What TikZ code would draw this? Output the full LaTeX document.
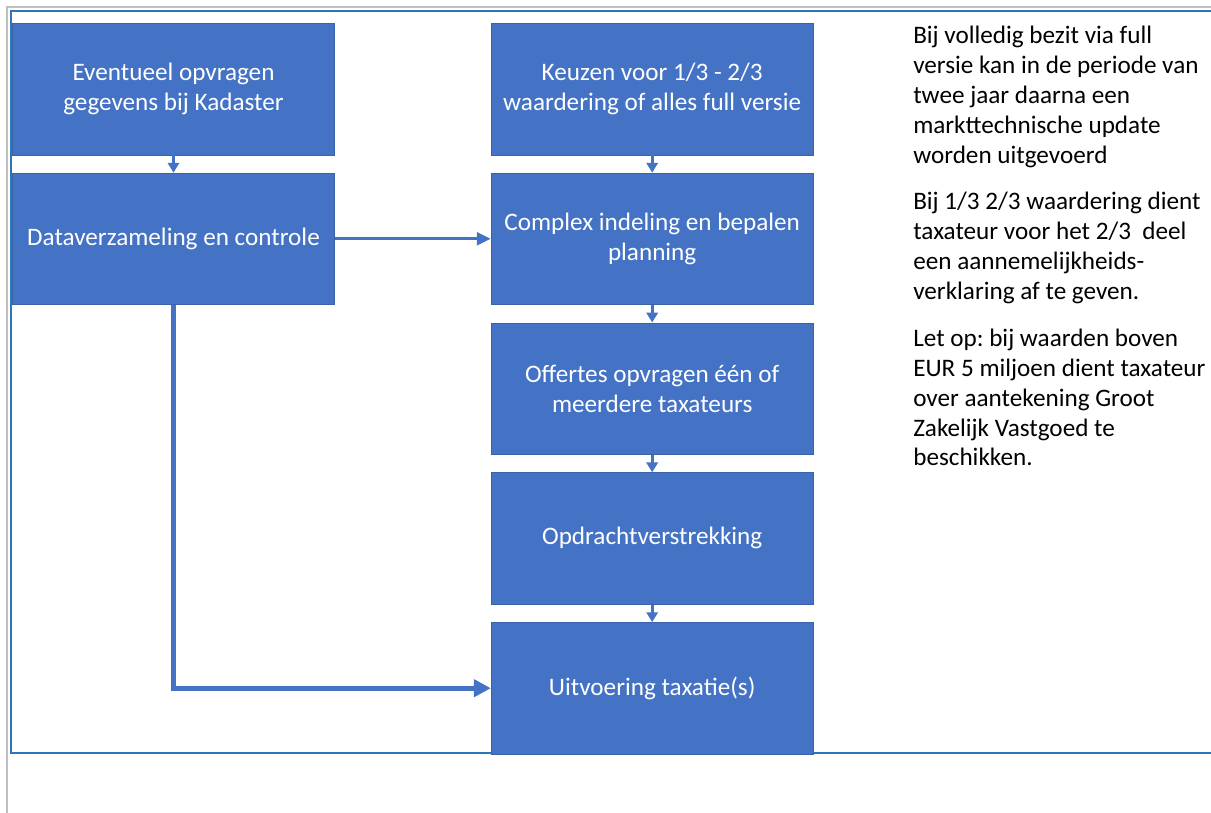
\documentclass[tikz,border=0pt]{standalone}
\usepackage{fontspec}
\setmainfont{Carlito}
\usetikzlibrary{positioning,arrows.meta}
\definecolor{boxblue}{HTML}{4472C4}
\definecolor{boxedge}{HTML}{3A62AA}
\definecolor{frameblue}{HTML}{2E75B6}
\definecolor{framegray}{HTML}{BFBFBF}
\frenchspacing

\begin{document}
\begin{tikzpicture}[
        x=0.025cm, y=-0.025cm,
        stepbox/.style={
            rectangle,
            fill=boxblue, draw=boxedge, line width=0.4pt,
            minimum width=8.05cm,
            minimum height=3.29cm,
            align=center, text=white,
            font=\fontsize{17.9}{21.3}\selectfont
        },
        note/.style={
            anchor=north west, inner sep=0pt,
            align=left,
            font=\fontsize{17.9}{21.3}\selectfont
        },
        shortarrow/.style={-{Triangle[length=7pt,width=8pt]}, boxblue, line width=2pt},
        arrow/.style={-{Triangle[length=10pt,width=9pt]}, boxblue, line width=2.2pt},
        bigarrow/.style={-{Triangle[length=12pt,width=12pt]}, boxblue, line width=3.5pt},
        node distance=0.44cm and 3.9cm
    ]

    \useasboundingbox (0,0) rectangle (1211,812);

    \draw[framegray, line width=1.5pt] (7,815) -- (7,7) -- (1215,7);
    \draw[frameblue, line width=1.2pt] (1215,11) -- (11,11) -- (11,753) -- (1215,753);

    \node[stepbox] (kadaster) at (173.5,89)
        {Eventueel opvragen\\gegevens bij Kadaster};
    \node[stepbox, below=of kadaster] (dataverz)
        {Dataverzameling en controle};

    \node[stepbox, right=of kadaster] (keuze)
        {Keuzen voor 1/3 - 2/3\\waardering of alles full versie};
    \node[stepbox, below=of keuze] (complex)
        {Complex indeling en bepalen\\planning};
    \node[stepbox, below=of complex] (offertes)
        {Offertes opvragen één of\\meerdere taxateurs};
    \node[stepbox, below=of offertes] (opdracht)
        {Opdrachtverstrekking};
    \node[stepbox, below=of opdracht] (uitvoering)
        {Uitvoering taxatie(s)};

    \node[note] (bezit) at (913,26)
        {Bij volledig bezit via full\\
         versie kan in de periode van\\
         twee jaar daarna een\\
         markttechnische update\\
         worden uitgevoerd};
    \node[note, below=0.6cm of bezit.south west, anchor=north west] (waardering)
        {Bij 1/3 2/3 waardering dient\\
         taxateur voor het 2/3~~deel\\
         een aannemelijkheids-\\
         verklaring af te geven.};
    \node[note, below=0.6cm of waardering.south west, anchor=north west] (letop)
        {Let op: bij waarden boven\\
         EUR 5 miljoen dient taxateur\\
         over aantekening Groot\\
         Zakelijk Vastgoed te\\
         beschikken.};

    \draw[shortarrow] (kadaster) -- (dataverz);
    \draw[shortarrow] (keuze) -- (complex);
    \draw[shortarrow] (complex) -- (offertes);
    \draw[shortarrow] (offertes) -- (opdracht);
    \draw[shortarrow] (opdracht) -- (uitvoering);
    \draw[arrow] (dataverz) -- (complex);
    \draw[bigarrow] (dataverz.south) |- (uitvoering.west);

\end{tikzpicture}
\end{document}
